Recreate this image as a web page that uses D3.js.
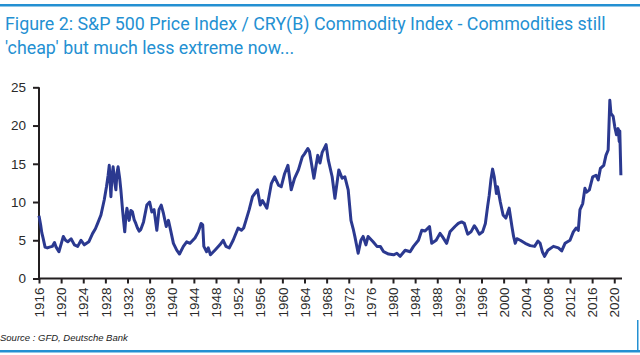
<!DOCTYPE html>
<html>
<head>
<meta charset="utf-8">
<script src="https://cdn.jsdelivr.net/npm/d3@7"></script>
<style>
  html, body { margin: 0; padding: 0; background: #fff; }
  svg { display: block; }
</style>
</head>
<body>
<svg id="chart" width="640" height="355"></svg>
<script>
const titleLines = [
  "Figure 2: S&P 500 Price Index / CRY(B) Commodity Index - Commodities still",
  "'cheap' but much less extreme now..."
];
const sourceText = "Source : GFD, Deutsche Bank";
const yTicks = [0, 5, 10, 15, 20, 25];
const xTickYears = d3.range(1916, 2021, 4);

const years = [
  1916.0, 1916.3, 1916.5, 1916.7, 1917.1, 1917.5, 1917.9, 1918.4, 1918.8, 1919.1,
  1919.6, 1920.0, 1920.4, 1920.8, 1921.2, 1921.8, 1922.4, 1923.0, 1923.6, 1924.2,
  1924.6, 1925.0, 1925.7, 1926.2, 1926.6, 1927.2, 1927.8, 1928.2, 1928.5, 1928.7,
  1929.0, 1929.2, 1929.4, 1929.7, 1929.9, 1930.1, 1930.3, 1930.6, 1930.8, 1931.1,
  1931.3, 1931.5, 1931.7, 1931.9, 1932.1, 1932.3, 1932.6, 1932.9, 1933.2, 1933.5,
  1933.8, 1934.1, 1934.4, 1934.9, 1935.5, 1936.0, 1936.4, 1936.8, 1937.3, 1937.7,
  1938.1, 1938.5, 1939.0, 1939.4, 1939.8, 1940.3, 1940.9, 1941.4, 1942.1, 1942.7,
  1943.3, 1944.2, 1944.8, 1945.3, 1945.6, 1945.8, 1946.3, 1946.6, 1947.0, 1947.8,
  1948.7, 1949.3, 1949.8, 1950.4, 1951.1, 1952.0, 1952.6, 1953.0, 1953.5, 1954.0,
  1954.6, 1955.5, 1956.0, 1956.4, 1957.2, 1958.0, 1958.6, 1959.3, 1959.8, 1960.4,
  1961.0, 1961.6, 1962.2, 1962.9, 1963.6, 1964.0, 1964.6, 1964.9, 1965.7, 1966.4,
  1966.8, 1967.2, 1967.9, 1968.3, 1969.0, 1969.5, 1970.2, 1970.8, 1971.3, 1971.9,
  1972.4, 1972.8, 1973.1, 1973.7, 1974.2, 1974.6, 1975.1, 1975.5, 1976.4, 1977.1,
  1977.7, 1978.3, 1979.2, 1980.1, 1980.7, 1981.3, 1982.2, 1983.1, 1983.7, 1984.6,
  1985.2, 1985.8, 1986.6, 1987.0, 1987.8, 1988.5, 1988.9, 1989.7, 1990.3, 1991.2,
  1991.8, 1992.4, 1992.9, 1993.5, 1994.1, 1994.7, 1995.0, 1995.6, 1996.2, 1996.7,
  1997.1, 1997.4, 1997.7, 1998.0, 1998.3, 1998.7, 1998.9, 1999.4, 1999.9, 2000.4,
  2001.0, 2001.5, 2001.8, 2002.1, 2002.4, 2003.0, 2003.9, 2004.8, 2005.6, 2006.2,
  2006.6, 2007.0, 2007.4, 2008.0, 2009.0, 2009.9, 2010.5, 2011.1, 2012.0, 2012.6,
  2013.1, 2013.5, 2013.8, 2014.3, 2014.7, 2015.0, 2015.5, 2016.1, 2016.7, 2017.1,
  2017.5, 2018.1, 2018.5, 2018.9, 2019.2, 2019.4, 2019.8, 2020.1, 2020.4, 2020.7,
  2020.9, 2021.0, 2021.2
];
const ratio = [
  8.2, 7.0, 6.0, 5.4, 4.1, 4.0, 4.1, 4.2, 4.7, 4.1,
  3.5, 4.5, 5.5, 5.0, 4.8, 5.2, 4.4, 4.2, 5.0, 4.4,
  4.6, 4.8, 5.9, 6.5, 7.2, 8.3, 10.3, 12.0, 13.5, 14.8,
  10.7, 13.5, 14.6, 12.5, 11.6, 13.8, 14.6, 13.0, 11.6, 9.0,
  7.5, 6.1, 8.0, 9.2, 8.3, 7.6, 8.9, 8.7, 7.7, 7.2,
  6.6, 6.2, 6.4, 7.4, 9.6, 10.0, 8.7, 9.0, 6.3, 9.0,
  9.6, 8.5, 6.8, 7.6, 6.3, 4.6, 3.7, 3.2, 4.2, 4.8,
  4.6, 5.3, 6.1, 7.2, 7.0, 4.2, 3.5, 4.0, 3.1, 3.7,
  4.4, 5.0, 4.2, 4.0, 5.0, 6.6, 6.3, 6.6, 7.8, 9.0,
  10.7, 11.6, 9.6, 10.2, 9.2, 12.4, 13.3, 12.2, 12.0, 13.7,
  14.8, 11.6, 13.1, 14.2, 15.9, 16.3, 17.0, 16.6, 13.1, 16.1,
  15.1, 16.5, 17.5, 15.5, 13.3, 10.5, 14.2, 13.1, 13.3, 11.6,
  7.6, 6.5, 5.5, 3.3, 5.0, 5.5, 4.4, 5.5, 4.8, 4.2,
  4.2, 3.5, 3.2, 3.1, 3.3, 2.9, 3.7, 3.5, 4.2, 5.0,
  6.3, 6.2, 6.8, 4.6, 5.0, 5.9, 5.5, 4.6, 6.1, 6.8,
  7.2, 7.4, 7.2, 5.8, 6.1, 6.9, 6.6, 5.8, 6.1, 7.2,
  9.4, 10.9, 12.9, 14.3, 13.3, 11.1, 12.0, 10.0, 8.3, 7.9,
  9.2, 6.8, 5.5, 4.6, 5.2, 5.0, 4.6, 4.3, 4.2, 4.9,
  4.6, 3.5, 2.9, 3.7, 4.2, 4.0, 3.6, 4.6, 5.0, 6.1,
  6.6, 6.3, 9.0, 9.8, 11.8, 11.3, 11.6, 13.3, 13.5, 12.9,
  14.4, 14.8, 16.1, 16.8, 23.3, 21.6, 21.2, 19.8, 18.8, 19.6,
  17.9, 19.3, 13.5
];

const svg = d3.select("#chart");
const W = 640, H = 355;
const blue = "#2490d2";
const lineColor = "#2b3990";
const axisColor = "#231f20";

// frame lines
svg.append("rect").attr("x", 0).attr("y", 4).attr("width", W).attr("height", 2.5).attr("fill", blue);
svg.append("rect").attr("x", 0).attr("y", 350).attr("width", W).attr("height", 2.5).attr("fill", blue);
svg.append("rect").attr("x", 637).attr("y", 320).attr("width", 1.5).attr("height", 32).attr("fill", blue);

// title
const title = svg.append("g");
const tl = title.selectAll("text").data(titleLines).join("text")
  .attr("x", 5)
  .attr("y", (d, i) => 30 + i * 24)
  .attr("font-family", "Roboto, 'Liberation Sans', sans-serif")
  .attr("font-size", 17)
  .attr("fill", blue)
  .text(d => d);
const w0 = tl.nodes()[0].getComputedTextLength();
const fs = 17 * 601 / w0;
tl.attr("font-size", fs);

// scales
const x = d3.scaleLinear().domain([1916, 2021.4]).range([39, 622]);
const y = d3.scaleLinear().domain([0, 25]).range([278.5, 87.3]);

// y axis
const yAxis = svg.append("g").attr("transform", "translate(39,0)")
  .call(d3.axisLeft(y).tickValues(yTicks).tickSize(6).tickPadding(7).tickFormat(d3.format("d")));
yAxis.select(".domain").attr("stroke", axisColor).attr("stroke-width", 2).attr("d", `M0,${y(25)}V${y(0)}`);
yAxis.selectAll(".tick line").attr("stroke", axisColor).attr("stroke-width", 2);
yAxis.selectAll(".tick text").attr("font-family", "'Liberation Sans', Arial, sans-serif")
  .attr("font-size", 13.5).attr("fill", "#2a2a2a");

// x axis
const xAxis = svg.append("g").attr("transform", `translate(0,${y(0)})`)
  .call(d3.axisBottom(x).tickValues(xTickYears).tickSize(5).tickFormat(d3.format("d")));
xAxis.select(".domain").attr("stroke", axisColor).attr("stroke-width", 2).attr("d", `M${x(1916)},0H622`);
xAxis.selectAll(".tick line").attr("stroke", axisColor).attr("stroke-width", 2);
xAxis.selectAll(".tick text")
  .attr("font-family", "'Liberation Sans', Arial, sans-serif")
  .attr("font-size", 13.5).attr("fill", "#2a2a2a")
  .attr("transform", "rotate(-90)")
  .attr("text-anchor", "end")
  .attr("dy", "0.35em")
  .attr("x", -9)
  .attr("y", 0);

// line
const data = years.map((yr, i) => ({ yr, v: ratio[i] }));
svg.append("path").datum(data)
  .attr("fill", "none")
  .attr("stroke", lineColor)
  .attr("stroke-width", 3)
  .attr("stroke-linejoin", "round")
  .attr("d", d3.line().x(d => x(d.yr)).y(d => y(d.v)));

// source
svg.append("text").attr("x", 0).attr("y", 341)
  .attr("font-family", "'Liberation Sans', Arial, sans-serif")
  .attr("font-style", "italic")
  .attr("font-size", 9.5)
  .attr("fill", "#222")
  .text(sourceText);
</script>
</body>
</html>
